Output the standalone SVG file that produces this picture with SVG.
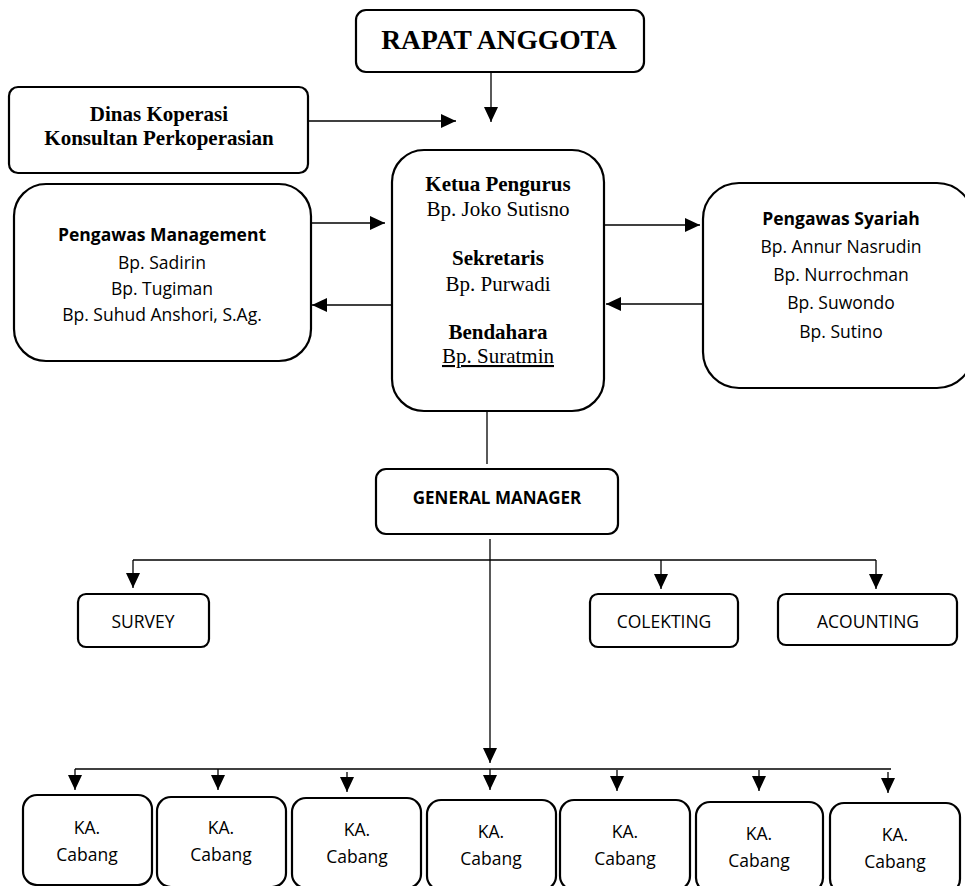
<svg xmlns="http://www.w3.org/2000/svg" width="965" height="886" viewBox="0 0 965 886">
<style>
.box{fill:#fff;stroke:#000;stroke-width:2.2}
.ln{fill:none;stroke:#000;stroke-width:1.3}
.serif{font-family:"Liberation Serif","Times New Roman",serif;fill:#000;text-anchor:middle;font-size:21px}
.sans{font-family:"Open Sans","Noto Sans","Liberation Sans",sans-serif;fill:#000;text-anchor:middle;font-size:17.5px}
.b{font-weight:bold}
</style>
<defs>
<marker id="ah" markerUnits="userSpaceOnUse" markerWidth="16" markerHeight="14" refX="15" refY="7" orient="auto">
<path d="M0,0 L15,7 L0,14 Z" fill="#000"/>
</marker>
</defs>
<rect width="965" height="886" fill="#fff"/>

<g id="connectors">
<path class="ln" d="M491,72 V122" marker-end="url(#ah)"/>
<path class="ln" d="M308,121 H456" marker-end="url(#ah)"/>
<path class="ln" d="M311,223 H385" marker-end="url(#ah)"/>
<path class="ln" d="M392,305 H312" marker-end="url(#ah)"/>
<path class="ln" d="M604,225 H700" marker-end="url(#ah)"/>
<path class="ln" d="M703,304 H606" marker-end="url(#ah)"/>
<path class="ln" d="M487,411 V464"/>
<path class="ln" d="M490,539 V763" marker-end="url(#ah)"/>
<path class="ln" d="M133,560 H876"/>
<path class="ln" d="M133,560 V588" marker-end="url(#ah)"/>
<path class="ln" d="M661,560 V589" marker-end="url(#ah)"/>
<path class="ln" d="M876,560 V589" marker-end="url(#ah)"/>
<path class="ln" d="M75,769 H891"/>
<path class="ln" d="M75,769 V790" marker-end="url(#ah)"/>
<path class="ln" d="M218,769 V790" marker-end="url(#ah)"/>
<path class="ln" d="M347,772 V792" marker-end="url(#ah)"/>
<path class="ln" d="M490,769 V790" marker-end="url(#ah)"/>
<path class="ln" d="M617,770 V791" marker-end="url(#ah)"/>
<path class="ln" d="M759,770 V791" marker-end="url(#ah)"/>
<path class="ln" d="M888,772 V793" marker-end="url(#ah)"/>
</g>

<g id="rapat">
<rect class="box" x="356" y="10" width="288" height="62" rx="10"/>
<text class="serif b" x="499" y="49" style="font-size:27.5px">RAPAT ANGGOTA</text>
</g>

<g id="dinas">
<rect class="box" x="9" y="87" width="299" height="86" rx="9"/>
<text class="serif b" x="159" y="121">Dinas Koperasi</text>
<text class="serif b" x="159" y="145">Konsultan Perkoperasian</text>
</g>

<g id="pengurus">
<rect class="box" x="392" y="150" width="212" height="261" rx="32"/>
<text class="serif b" x="498" y="191">Ketua Pengurus</text>
<text class="serif" x="498" y="216">Bp. Joko Sutisno</text>
<text class="serif b" x="498" y="265">Sekretaris</text>
<text class="serif" x="498" y="291">Bp. Purwadi</text>
<text class="serif b" x="498" y="339">Bendahara</text>
<text class="serif" x="498" y="363" text-decoration="underline">Bp. Suratmin</text>
</g>

<g id="pengawas-management">
<rect class="box" x="14" y="184" width="297" height="177" rx="32"/>
<text class="sans b" x="162" y="241">Pengawas Management</text>
<text class="sans" x="162" y="269">Bp. Sadirin</text>
<text class="sans" x="162" y="295">Bp. Tugiman</text>
<text class="sans" x="162" y="321">Bp. Suhud Anshori, S.Ag.</text>
</g>

<g id="pengawas-syariah">
<rect class="box" x="703" y="183" width="270" height="205" rx="36"/>
<text class="sans b" x="841" y="225">Pengawas Syariah</text>
<text class="sans" x="841" y="253">Bp. Annur Nasrudin</text>
<text class="sans" x="841" y="281">Bp. Nurrochman</text>
<text class="sans" x="841" y="309">Bp. Suwondo</text>
<text class="sans" x="841" y="338">Bp. Sutino</text>
</g>

<g id="general-manager">
<rect class="box" x="376" y="469" width="242" height="65" rx="10"/>
<text class="sans b" x="497" y="504" style="font-size:17px">GENERAL MANAGER</text>
</g>

<g id="survey">
<rect class="box" x="78" y="594" width="131" height="53" rx="8"/>
<text class="sans" x="143" y="628">SURVEY</text>
</g>

<g id="colekting">
<rect class="box" x="590" y="594" width="148" height="53" rx="8"/>
<text class="sans" x="664" y="628">COLEKTING</text>
</g>

<g id="acounting">
<rect class="box" x="778" y="594" width="179" height="51" rx="8"/>
<text class="sans" x="868" y="628">ACOUNTING</text>
</g>

<g id="cabang1">
<rect class="box" x="23" y="795" width="129" height="90" rx="14"/>
<text class="sans" x="87" y="834">KA.</text>
<text class="sans" x="87" y="861">Cabang</text>
</g>
<g id="cabang2">
<rect class="box" x="157" y="797" width="129" height="90" rx="14"/>
<text class="sans" x="221" y="834">KA.</text>
<text class="sans" x="221" y="861">Cabang</text>
</g>
<g id="cabang3">
<rect class="box" x="292" y="798" width="129" height="90" rx="14"/>
<text class="sans" x="357" y="836">KA.</text>
<text class="sans" x="357" y="863">Cabang</text>
</g>
<g id="cabang4">
<rect class="box" x="427" y="800" width="129" height="90" rx="14"/>
<text class="sans" x="491" y="838">KA.</text>
<text class="sans" x="491" y="865">Cabang</text>
</g>
<g id="cabang5">
<rect class="box" x="560" y="800" width="130" height="90" rx="14"/>
<text class="sans" x="625" y="838">KA.</text>
<text class="sans" x="625" y="865">Cabang</text>
</g>
<g id="cabang6">
<rect class="box" x="696" y="802" width="127" height="90" rx="14"/>
<text class="sans" x="759" y="840">KA.</text>
<text class="sans" x="759" y="867">Cabang</text>
</g>
<g id="cabang7">
<rect class="box" x="830" y="803" width="130" height="90" rx="14"/>
<text class="sans" x="895" y="841">KA.</text>
<text class="sans" x="895" y="868">Cabang</text>
</g>
</svg>
